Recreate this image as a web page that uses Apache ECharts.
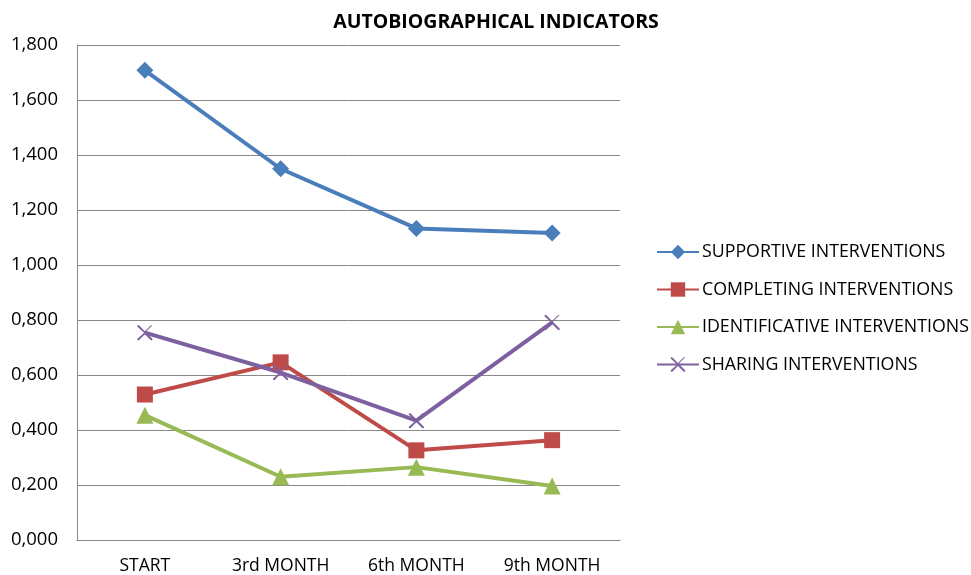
<!DOCTYPE html>
<html><head><meta charset="utf-8">
<script src="https://cdn.jsdelivr.net/npm/echarts@6/dist/echarts.min.js"></script>
<style>html,body{margin:0;padding:0;background:#fff}#c{width:971px;height:575px}</style>
</head><body><div id="c"></div>
<script>
const categories = ['START', '3rd MONTH', '6th MONTH', '9th MONTH'];
const supportive = [1.708, 1.350, 1.133, 1.116];
const completing = [0.529, 0.646, 0.326, 0.363];
const identificative = [0.454, 0.230, 0.265, 0.196];
const sharing = [0.754, 0.609, 0.434, 0.791];
const seriesNames = ['SUPPORTIVE INTERVENTIONS', 'COMPLETING INTERVENTIONS', 'IDENTIFICATIVE INTERVENTIONS', 'SHARING INTERVENTIONS'];

const font = "'Open Sans', 'Liberation Sans', sans-serif";
const xPath = 'path://M0,0 L2,0 L10,8 L18,0 L20,0 L11,9 L20,18 L20,20 L18,20 L10,12 L2,20 L0,20 L0,18 L9,10 L0,2 Z';

function mk(name, data, color, symbol, size) {
  return {
    name, type: 'line', data,
    symbol, symbolSize: size,
    lineStyle: { color, width: 4 },
    itemStyle: { color },
    emphasis: { disabled: true },
    animation: false
  };
}

const chart = echarts.init(document.getElementById('c'));
chart.setOption({
  animation: false,
  title: {
    text: 'AUTOBIOGRAPHICAL INDICATORS', left: 491, top: 7, textAlign: 'center',
    textStyle: { fontFamily: font, fontWeight: 'bold', fontSize: 19.5, color: '#000' }
  },
  grid: { left: 77, top: 45, width: 543, height: 496 },
  legend: {
    orient: 'vertical', left: 651, top: 238, itemWidth: 42, itemHeight: 18, itemGap: 19.5,
    textStyle: { fontFamily: font, fontSize: 17.8, color: '#000', padding: [0, 0, 0, -2] },
    data: seriesNames
  },
  xAxis: {
    type: 'category', data: categories, boundaryGap: true,
    axisLine: { lineStyle: { color: '#888', width: 1 } },
    axisTick: { show: false },
    axisLabel: { fontFamily: font, fontSize: 17.5, color: '#000', margin: 17 }
  },
  yAxis: {
    type: 'value', min: 0, max: 1.8, interval: 0.2,
    axisLine: { show: true, lineStyle: { color: '#888', width: 1 } },
    axisTick: { show: false },
    splitLine: { lineStyle: { color: '#888', width: 1 } },
    axisLabel: { fontFamily: font, fontSize: 18.5, color: '#000', margin: 19,
      formatter: v => v.toFixed(3).replace('.', ',') }
  },
  series: [
    mk(seriesNames[0], supportive, '#4A7EBB', 'diamond', 17),
    mk(seriesNames[1], completing, '#BE4B48', 'rect', 16),
    mk(seriesNames[2], identificative, '#98B954', 'triangle', 17),
    mk(seriesNames[3], sharing, '#7D60A0', xPath, 15)
  ]
});
</script></body></html>
